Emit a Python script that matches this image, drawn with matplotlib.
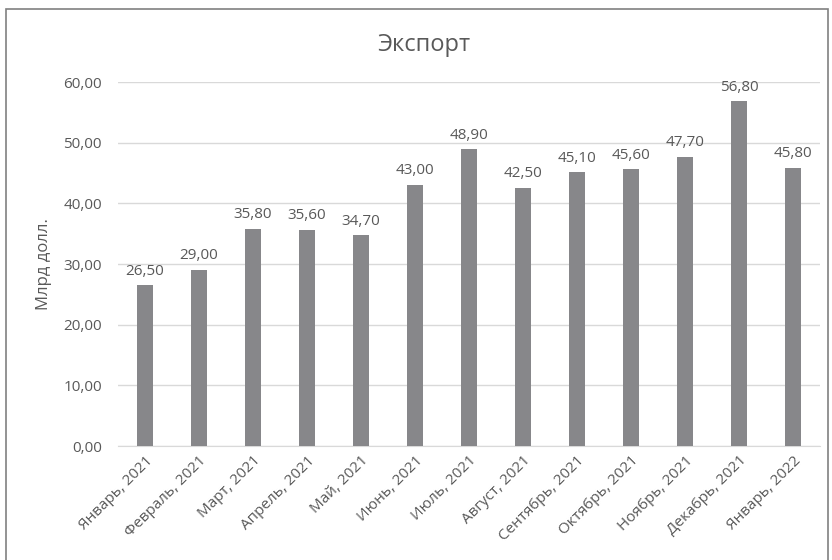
import matplotlib.pyplot as plt
from matplotlib.patches import Rectangle

months = ["Январь, 2021", "Февраль, 2021", "Март, 2021", "Апрель, 2021", "Май, 2021",
          "Июнь, 2021", "Июль, 2021", "Август, 2021", "Сентябрь, 2021", "Октябрь, 2021",
          "Ноябрь, 2021", "Декабрь, 2021", "Январь, 2022"]
export = [26.5, 29.0, 35.8, 35.6, 34.7, 43.0, 48.9, 42.5, 45.1, 45.6, 47.7, 56.8, 45.8]
yticks = [0, 10, 20, 30, 40, 50, 60]

plt.rcParams['font.family'] = ['Open Sans', 'DejaVu Sans']
txt = "#595959"

fig = plt.figure(figsize=(8.32, 5.6), dpi=100)
ax = fig.add_axes([118 / 832, 1 - 446 / 560, 702 / 832, 364 / 560])

x = list(range(len(months)))
bars = ax.bar(x, export, width=0.31, color="#87878a", zorder=3)
for xi, v in zip(x, export):
    ax.text(xi, v + 1.1, f"{v:.2f}".replace(".", ","), ha="center", va="bottom",
            fontsize=11, color=txt)

ax.set_xlim(-0.5, len(months) - 0.5)
ax.set_ylim(0, 60)
ax.set_yticks(yticks)
ax.set_yticklabels([f"{t:.2f}".replace(".", ",") for t in yticks], fontsize=11, color=txt)
ax.set_xticks(x)
ax.set_xticklabels(months, rotation=45, ha="right", rotation_mode="anchor",
                   fontsize=11, color=txt)
ax.tick_params(axis="both", length=0)
ax.tick_params(axis="y", pad=11.5)
ax.tick_params(axis="x", pad=5)
ax.grid(axis="y", color="#d9d9d9", linewidth=1, zorder=0)
for s in ["top", "right", "left"]:
    ax.spines[s].set_visible(False)
ax.spines["bottom"].set_color("#d9d9d9")
ax.set_ylabel("Млрд долл.", fontsize=12, color=txt, labelpad=8)

fig.text(424 / 832, 1 - 45 / 560, "Экспорт", ha="center", va="center",
         fontsize=17, color=txt)

fig.patches.append(Rectangle((6 / 832, -0.1), 822 / 832, 1.1 - 9 / 560,
                             transform=fig.transFigure, fill=False,
                             edgecolor="#808080", linewidth=1.2))

plt.savefig("out.png", dpi=100)
